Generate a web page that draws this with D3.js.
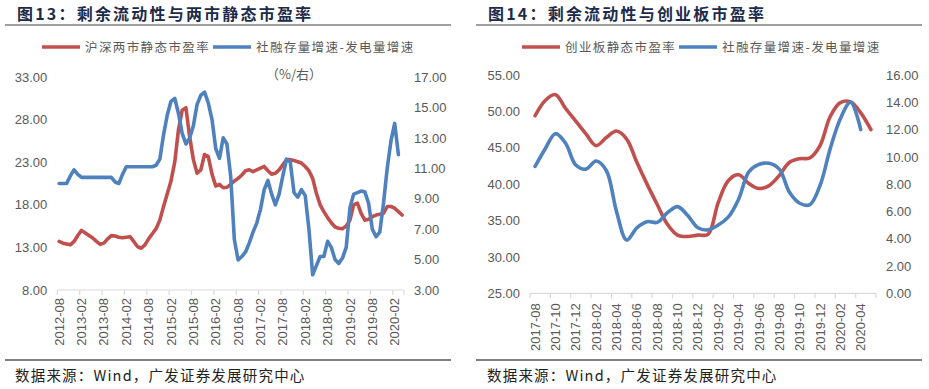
<!DOCTYPE html>
<html><head><meta charset="utf-8">
<script src="https://cdn.jsdelivr.net/npm/d3@7"></script>
<style>
body{margin:0;background:#fff;}
svg{display:block;}
</style></head><body>
<svg id="c" width="929" height="389"></svg>
<script>
function monthRange(start, n){
  const [y0,m0] = start.split("-").map(Number);
  const out=[];
  for(let k=0;k<n;k++){const t=(m0-1)+k;const y=y0+Math.floor(t/12);const m=t%12+1;out.push(y+"-"+String(m).padStart(2,"0"));}
  return out;
}
// ---- Chart 13 data ----
const catsL = monthRange("2012-08", 93);
const peL = [13.7,13.5,13.4,13.3,13.7,14.4,15.0,14.7,14.4,14.1,13.7,13.36,13.5,14.0,14.38,14.34,14.2,14.14,14.2,14.26,
 13.7,13.1,12.9,13.3,14.0,14.6,15.2,16.2,17.8,19.3,20.8,23.0,26.8,29.1,29.4,26.0,23.3,21.7,22.1,23.9,
 23.65,21.6,20.2,20.4,20.0,20.05,20.4,20.8,21.1,21.5,22.0,22.1,21.9,22.1,22.3,22.5,22.0,21.6,21.7,22.1,
 22.7,23.3,23.3,23.2,23.06,22.9,22.5,22.0,21.1,19.35,18.0,17.2,16.5,15.9,15.4,15.24,15.2,15.5,16.2,18.0,
 18.2,17.0,16.2,16.3,16.6,16.8,16.9,17.0,17.8,17.8,17.6,17.2,16.8];
const tsfL = [10.0,10.0,10.0,10.5,10.9,10.6,10.4,10.4,10.4,10.4,10.4,10.4,10.4,10.4,10.4,10.1,10.0,10.6,11.1,11.1,
 11.1,11.1,11.1,11.1,11.1,11.1,11.2,11.6,13.2,14.5,15.4,15.6,14.6,13.3,12.6,13.0,13.8,15.2,15.8,16.0,
 15.3,14.2,12.3,11.65,13.0,12.6,10.5,6.3,4.97,5.2,5.5,6.1,6.8,7.4,8.3,9.6,10.2,9.3,8.6,9.3,
 10.5,11.6,11.4,9.4,9.1,9.6,9.2,7.0,4.0,4.6,5.2,5.2,6.2,5.8,5.0,4.75,5.1,5.8,8.4,9.3,
 9.4,9.5,9.45,8.7,7.0,6.5,6.8,8.7,11.0,12.8,13.95,11.9];
const yTicksL = [8,13,18,23,28,33];
const y2TicksL = [3,5,7,9,11,13,15,17];
// ---- Chart 14 data ----
const catsR = monthRange("2017-08", 34);
const peR = [49.4,51.5,52.3,50.4,48.65,46.9,45.3,46.4,47.3,46.2,43.0,40.0,37.2,34.5,33.0,32.8,33.0,33.1,37.5,40.5,
 41.3,40.1,39.4,39.8,41.2,43.0,43.5,43.6,45.3,49.3,51.2,51.3,49.8,47.5];
const tsfR = [9.3,10.6,11.7,11.0,9.4,9.1,9.7,9.0,6.0,3.9,4.8,5.25,5.2,5.9,6.35,5.7,4.8,4.65,5.0,5.6,
 6.9,8.9,9.45,9.53,9.1,7.4,6.6,6.5,7.9,10.6,12.8,14.0,12.0];
const yTicksR = [25,30,35,40,45,50,55];
const y2TicksR = [0,2,4,6,8,10,12,14,16];

const RED="#C0504D", BLUE="#4F81BD", GREY="#595959";
const NUMFONT="'Liberation Sans', Arial, sans-serif";
const CJK="'Noto Sans CJK SC', sans-serif";
const svg = d3.select("#c");

function panel(o){
  const g = svg.append("g");
  // title
  g.append("text").attr("x",o.titleX).attr("y",19.5).text(o.title)
    .attr("font-family",CJK).attr("font-weight","bold").attr("font-size",16)
    .attr("letter-spacing","2.2px").attr("fill","#1c2b4a");
  g.append("line").attr("x1",o.frameX0).attr("x2",o.frameX1).attr("y1",25).attr("y2",25)
    .attr("stroke","#7f7f7f").attr("stroke-width",1.5);
  g.append("line").attr("x1",o.frameX0).attr("x2",o.frameX1).attr("y1",360).attr("y2",360)
    .attr("stroke","#000").attr("stroke-width",1.2);
  g.append("text").attr("x",o.footX).attr("y",381).text("数据来源：Wind，广发证券发展研究中心")
    .attr("font-family",CJK).attr("font-size",14.5).attr("letter-spacing","1.2px").attr("fill","#222");

  const x = d3.scaleBand().domain(o.cats).range([o.x0,o.x1]).paddingInner(0).paddingOuter(0);
  const cx = d => x(d)+x.bandwidth()/2;
  const y = d3.scaleLinear().domain(o.yDom).range([o.yBot,o.yTop]);
  const y2 = d3.scaleLinear().domain(o.y2Dom).range([o.yBot,o.yTop]);

  // y axes
  const ax = g.append("g").attr("transform",`translate(${o.x0},0)`)
    .call(d3.axisLeft(y).tickValues(o.yTicks).tickFormat(d3.format(".2f")).tickSize(0).tickPadding(10));
  const ax2 = g.append("g").attr("transform",`translate(${o.x1},0)`)
    .call(d3.axisRight(y2).tickValues(o.y2Ticks).tickFormat(d3.format(".2f")).tickSize(0).tickPadding(10));
  [ax,ax2].forEach(a=>{a.select(".domain").remove();a.selectAll("text").attr("font-family",NUMFONT).attr("font-size",13).attr("fill",GREY);});

  // x axis
  const xa = g.append("g").attr("transform",`translate(0,${o.yBot})`)
    .call(d3.axisBottom(x).tickValues(o.cats.filter((d,i)=>i%o.every===0)).tickSize(0));
  xa.select(".domain").remove();
  xa.selectAll("text").attr("transform","rotate(-90)").attr("x",-o.labOff).attr("y",0).attr("dy","0.35em")
    .style("text-anchor","end").attr("font-family",NUMFONT).attr("font-size",13).attr("fill",GREY);
  g.append("line").attr("x1",o.x0).attr("x2",o.x1).attr("y1",o.yBot).attr("y2",o.yBot).attr("stroke","#D9D9D9").attr("stroke-width",1.2);
  const tickXs = o.cats.filter((d,i)=>i%o.every===0).map(d=>x(d)).concat([o.x1]);
  g.selectAll(null).data(tickXs).enter().append("line")
    .attr("x1",d=>d).attr("x2",d=>d).attr("y1",o.yBot).attr("y2",o.yBot+5).attr("stroke","#D9D9D9").attr("stroke-width",1.2);

  // lines
  const l1 = d3.line().x((d,i)=>cx(o.cats[i])).y(d=>y(d)).curve(o.curve);
  const l2 = d3.line().x((d,i)=>cx(o.cats[i])).y(d=>y2(d)).curve(o.curve);
  g.append("path").attr("d",l1(o.s1)).attr("fill","none").attr("stroke",RED).attr("stroke-width",3.6).attr("stroke-linejoin","round").attr("stroke-linecap","round");
  g.append("path").attr("d",l2(o.s2)).attr("fill","none").attr("stroke",BLUE).attr("stroke-width",3.6).attr("stroke-linejoin","round").attr("stroke-linecap","round");

  // legend
  const lg = g.append("g");
  o.legend.forEach(L=>{
    lg.append("line").attr("x1",L.x).attr("x2",L.x+38).attr("y1",47).attr("y2",47).attr("stroke",L.c).attr("stroke-width",3.4);
    lg.append("text").attr("x",L.x+43).attr("y",51.5).text(L.t).attr("font-family",CJK).attr("font-size",12.5)
      .attr("letter-spacing","1.4px").attr("fill",GREY);
  });
  return g;
}

const gL = panel({title:"图13：剩余流动性与两市静态市盈率", titleX:17, frameX0:5, frameX1:451, footX:15,
  cats:catsL, x0:57.3, x1:404, yBot:290, yTop:77, yDom:[8,33], y2Dom:[3,17], yTicks:yTicksL, y2Ticks:y2TicksL,
  every:6, labOff:8, curve:d3.curveLinear, s1:peL, s2:tsfL,
  legend:[{x:42,c:RED,t:"沪深两市静态市盈率"},{x:213,c:BLUE,t:"社融存量增速-发电量增速"}]});
gL.append("text").attr("x",266).attr("y",79).text("（%/右）").attr("font-family",CJK).attr("font-size",13).attr("fill",GREY);

panel({title:"图14：剩余流动性与创业板市盈率", titleX:488, frameX0:476, frameX1:922, footX:487,
  cats:catsR, x0:530, x1:876, yBot:293.3, yTop:75, yDom:[25,55], y2Dom:[0,16], yTicks:yTicksR, y2Ticks:y2TicksR,
  every:2, labOff:10, curve:d3.curveCatmullRom.alpha(0.5), s1:peR, s2:tsfR,
  legend:[{x:522,c:RED,t:"创业板静态市盈率"},{x:679,c:BLUE,t:"社融存量增速-发电量增速"}]});
</script>
</body></html>
